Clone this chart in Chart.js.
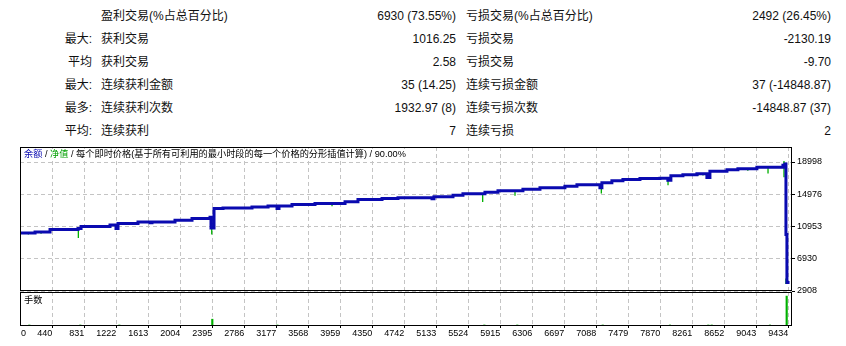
<!DOCTYPE html>
<html>
<head>
<meta charset="utf-8">
<script src="https://cdn.jsdelivr.net/npm/chart.js@4.4.1/dist/chart.umd.min.js"></script>
<style>
body{margin:0;background:#fff;width:846px;height:346px;overflow:hidden;position:relative;
  font-family:"Liberation Sans","Noto Sans CJK SC",sans-serif;color:#111}
.row{position:absolute;left:0;width:846px;height:23px;line-height:23px;font-size:12px}
.row span{position:absolute;top:0;white-space:nowrap}
.pre{left:0;width:92px;text-align:right}
.lab1{left:101px}
.val1{left:300px;width:156px;text-align:right}
.lab2{left:466px}
.val2{left:600px;width:231px;text-align:right}
.box{position:absolute;left:0;width:846px}
.note{position:absolute;font-size:9.2px;line-height:11px;height:11px;background:#fff;white-space:nowrap;color:#000}
</style>
</head>
<body>
<div id="stats"></div>
<div class="box" style="top:140px;height:160px"><canvas id="ctx" width="846" height="160"></canvas></div>
<div class="box" style="top:290px;height:56px"><canvas id="ctx2" width="846" height="56"></canvas></div>
<div class="note" style="left:21px;top:149px;padding:0 3px">
  <span style="color:#0a0ab0">余额</span> / <span style="color:#00a000">净值</span> / 每个即时价格(基于所有可利用的最小时段的每一个价格的分形插值计算) / 90.00%
</div>
<div class="note" style="left:24px;top:295px">手数</div>
<script>
//
// report numbers
//
const statPrefix = ['', '最大:', '平均', '最大:', '最多:', '平均:'];
const winLabels = ['盈利交易(%占总百分比)', '获利交易', '获利交易', '连续获利金额', '连续获利次数', '连续获利'];
const winValues = ['6930 (73.55%)', '1016.25', '2.58', '35 (14.25)', '1932.97 (8)', '7'];
const lossLabels = ['亏损交易(%占总百分比)', '亏损交易', '亏损交易', '连续亏损金额', '连续亏损次数', '连续亏损'];
const lossValues = ['2492 (26.45%)', '-2130.19', '-9.70', '37 (-14848.87)', '-14848.87 (37)', '2'];

// balance curve: trade number where a level starts, and the level
const balTrade = [45, 229, 412, 754, 791, 1145, 1218, 1243, 1487, 1634, 1658, 1939, 2147, 2367, 2379, 2416,
  2526, 2880, 3076, 3186, 3210, 3369, 3650, 4017, 4175, 4469, 4664, 5080, 5104, 5336, 5458, 5727, 5886,
  6191, 6399, 6704, 6851, 7132, 7156, 7278, 7413, 7621, 7865, 7962, 7999, 8146, 8317, 8439, 8476, 8684,
  8818, 9050, 9368, 9393, 9405, 9417, 9449];
const balValue = [10152, 10277, 10577, 10702, 10951, 11151, 10702, 11326, 11526, 11426, 11526, 11738, 11950, 12113, 10777, 13200,
  13275, 13400, 13525, 13200, 13525, 13700, 13825, 14025, 14325, 14450, 14525, 14400, 14650, 14860, 15023, 15236, 15398,
  15610, 15773, 15985, 16148, 15773, 16398, 16648, 16823, 16948, 16985, 16735, 17272, 17397, 17522, 17070, 17858, 18020,
  18145, 18358, 18608, 18745, 9950, 3957, 3957];

// equity drops below balance: trade, top, bottom
const eqTrade = [147, 302, 758, 2388, 2880, 3858, 5699, 6094, 7149, 7964, 8330, 8391, 8939, 9186, 9381, 9405];
const eqHigh = [10152, 10277, 10702, 12113, 13400, 13825, 15023, 15398, 15773, 16735, 17522, 17522, 18145, 18358, 19111, 4457];
const eqLow = [9952, 10052, 9528, 9952, 13150, 13487, 14024, 14774, 15074, 16110, 17270, 17300, 17921, 17571, 17109, 3782];

// lots per trade
const lotTrade = [159, 782, 1259, 2395, 3190, 5719, 6122, 7166, 7988, 8456, 8498, 9210, 9414];
const lotSize = [0.03, 0.03, 0.03, 0.2, 0.03, 0.03, 0.03, 0.03, 0.03, 0.03, 0.03, 0.03, 0.88];

// axis ticks
const xTickValues = [0, 440, 831, 1222, 1613, 2004, 2395, 2786, 3177, 3568, 3959, 4350, 4742, 5133,
  5524, 5915, 6306, 6697, 7088, 7479, 7870, 8261, 8652, 9043, 9434];
const yTickValues = [2908, 6930, 10953, 14976, 18998];

//
// table at the top
//
const stats = document.getElementById('stats');
statPrefix.forEach((p, i) => {
    const row = document.createElement('div');
    row.className = 'row';
    row.style.top = (4.5 + i * 23.1) + 'px';
    row.innerHTML = `<span class="pre">${p}</span><span class="lab1">${winLabels[i]}</span>` +
        `<span class="val1">${winValues[i]}</span><span class="lab2">${lossLabels[i]}</span>` +
        `<span class="val2">${lossValues[i]}</span>`;
    stats.appendChild(row);
});

//
// chart helpers
//
const tickFont = {family: 'Liberation Sans', size: 9};
const gridGrey = '#c4c4c4';
const clear = 'rgba(0,0,0,0)';

// black box round each panel
const framePlugin = {
    id: 'frame',
    afterDraw(chart) {
        const a = chart.chartArea, c = chart.ctx;
        c.save();
        c.strokeStyle = '#000';
        c.lineWidth = 1;
        c.strokeRect(Math.round(a.left) + 0.5, Math.round(a.top) + 0.5,
            Math.round(a.right - a.left) - 1, Math.round(a.bottom - a.top) - 1);
        c.restore();
    }
};

function xAxis(showLabels) {
    return {
        type: 'linear', min: 45, max: 9479, offset: false,
        afterBuildTicks: s => { s.ticks = xTickValues.map(v => ({value: v === 0 ? 119 : v})); },
        afterFit: s => { s.height = showLabels ? 20 : 9; s.paddingLeft = 0; s.paddingRight = 0; },
        grid: {
            color: c => c.index === 0 ? clear : gridGrey,
            tickColor: c => c.index === 0 ? clear : '#000',
            drawTicks: showLabels, tickLength: 2, tickBorderDash: [], offset: false
        },
        border: {display: false, dash: [4, 3]},
        ticks: {
            display: showLabels, autoSkip: false, maxRotation: 0, minRotation: 0,
            align: 'end', padding: 0, font: tickFont, color: '#000',
            callback: (v, i) => String(xTickValues[i])
        }
    };
}

// equity as separate vertical strokes
let eqData = [];
eqTrade.forEach((t, i) => {
    eqData.push({x: t, y: eqHigh[i]}, {x: t, y: eqLow[i]}, {x: t, y: null});
});

new Chart(document.getElementById('ctx'), {
    type: 'line',
    data: {
        datasets: [{
            label: '余额',
            data: balTrade.map((t, i) => ({x: t, y: balValue[i]})),
            borderColor: '#0a0ab0',
            borderWidth: 3,
            stepped: 'before',
            pointRadius: 0,
            fill: false
        }, {
            label: '净值',
            data: eqData,
            borderColor: '#00b000',
            borderWidth: 1.3,
            pointRadius: 0,
            spanGaps: false,
            fill: false
        }]
    },
    options: {
        responsive: false,
        animation: false,
        events: [],
        layout: {padding: {left: 20, top: 7, right: 0, bottom: 0}},
        plugins: {legend: {display: false}, tooltip: {enabled: false}},
        scales: {
            x: xAxis(false),
            y: {
                position: 'right', min: 2908, max: 20869,
                afterBuildTicks: s => { s.ticks = yTickValues.map(v => ({value: v})); },
                afterFit: s => { s.width = 54; s.paddingTop = 0; s.paddingBottom = 0; },
                grid: {color: gridGrey, tickColor: '#000', tickLength: 3, tickBorderDash: []},
                border: {display: false, dash: [4, 3]},
                ticks: {padding: 2, font: tickFont, color: '#000', callback: v => String(v)}
            }
        }
    },
    plugins: [framePlugin]
});

new Chart(document.getElementById('ctx2'), {
    type: 'bar',
    data: {
        datasets: [{
            label: '手数',
            data: lotTrade.map((t, i) => ({x: t, y: lotSize[i]})),
            backgroundColor: '#00b000',
            borderWidth: 0,
            barThickness: 1.5
        }]
    },
    options: {
        responsive: false,
        animation: false,
        events: [],
        layout: {padding: {left: 20, top: 2, right: 0, bottom: 0}},
        plugins: {legend: {display: false}, tooltip: {enabled: false}},
        scales: {
            x: xAxis(true),
            y: {
                position: 'right', min: 0, max: 1,
                afterFit: s => { s.width = 54; s.paddingTop = 0; s.paddingBottom = 0; },
                ticks: {display: false},
                grid: {display: false},
                border: {display: false}
            }
        }
    },
    plugins: [framePlugin]
});
</script>
</body>
</html>
